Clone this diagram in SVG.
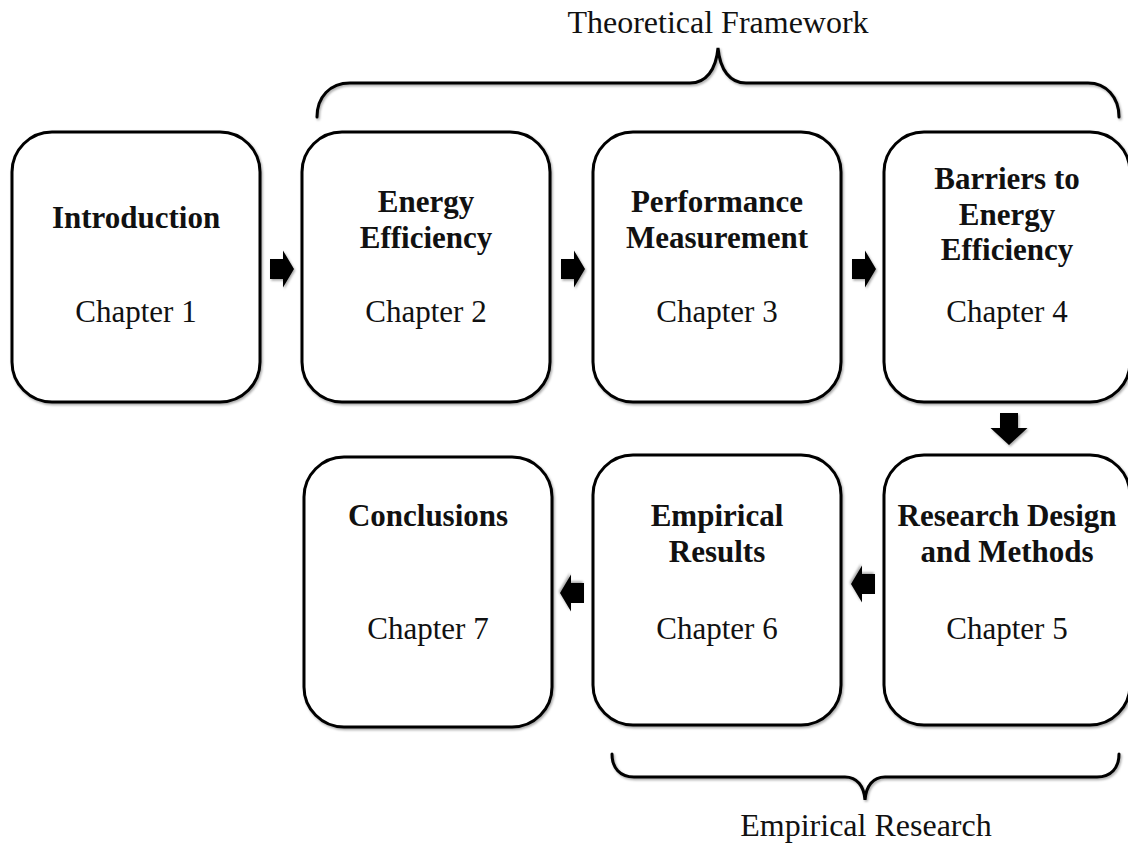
<svg xmlns="http://www.w3.org/2000/svg" width="1128" height="845" viewBox="0 0 1128 845">
  <defs>
    <filter id="soft" x="-10%" y="-10%" width="130%" height="130%">
      <feDropShadow dx="1.2" dy="1.6" stdDeviation="1.2" flood-color="#000" flood-opacity="0.35"/>
    </filter>
    <path id="arrowR" d="M0,-10 L13,-10 L13,-18.5 L24,0 L13,18.5 L13,10 L0,10 Z"/>
    <path id="arrowD" d="M-9,0 L9,0 L9,15 L18.5,15 L0,32 L-18.5,15 L-9,15 Z"/>
  </defs>
  <style>
    .box { fill: #fff; stroke: #000; stroke-width: 3; filter: url(#soft); }
    .brace { fill: none; stroke: #000; stroke-width: 3; stroke-linecap: round; filter: url(#soft); }
    .arrow { fill: #000; filter: url(#soft); }
    text { font-family: "Liberation Serif", "Times New Roman", serif; font-size: 31px; fill: #111; text-anchor: middle; }
    .title { font-weight: bold; }
    .label { font-size: 32px; }
  </style>
  <rect width="1128" height="845" fill="#fff"/>

  <!-- group braces and their captions -->
  <g id="theoretical-framework">
    <path class="brace" d="M317,117 C317,97 330,83 350,83 L690,83 C706,83 716,70 718,48 C720,70 730,83 746,83 L1088,83 C1106,83 1119,97 1119,117"/>
    <text class="label" x="718" y="33">Theoretical Framework</text>
  </g>
  <g id="empirical-research">
    <path class="brace" d="M612,754 C612,768 620,777 634,777 L845,777 C857,777 864,786 865,800 C866,786 873,777 885,777 L1097,777 C1111,777 1119,768 1119,754"/>
    <text class="label" x="866" y="836">Empirical Research</text>
  </g>

  <!-- chapter boxes -->
  <g id="chapter-1">
    <rect class="box" x="12" y="132" width="248" height="270" rx="40"/>
    <text class="title" x="136" y="228">Introduction</text>
    <text x="136" y="322">Chapter 1</text>
  </g>
  <g id="chapter-2">
    <rect class="box" x="302" y="132" width="248" height="270" rx="40"/>
    <text class="title" x="426" y="212">Energy</text>
    <text class="title" x="426" y="248">Efficiency</text>
    <text x="426" y="322">Chapter 2</text>
  </g>
  <g id="chapter-3">
    <rect class="box" x="593" y="132" width="248" height="270" rx="40"/>
    <text class="title" x="717" y="212">Performance</text>
    <text class="title" x="717" y="248">Measurement</text>
    <text x="717" y="322">Chapter 3</text>
  </g>
  <g id="chapter-4">
    <rect class="box" x="884" y="132" width="246" height="270" rx="40"/>
    <text class="title" x="1007" y="189">Barriers to</text>
    <text class="title" x="1007" y="225">Energy</text>
    <text class="title" x="1007" y="260">Efficiency</text>
    <text x="1007" y="322">Chapter 4</text>
  </g>
  <g id="chapter-5">
    <rect class="box" x="884" y="455" width="246" height="270" rx="40"/>
    <text class="title" x="1007" y="526">Research Design</text>
    <text class="title" x="1007" y="562">and Methods</text>
    <text x="1007" y="639">Chapter 5</text>
  </g>
  <g id="chapter-6">
    <rect class="box" x="593" y="455" width="248" height="270" rx="40"/>
    <text class="title" x="717" y="526">Empirical</text>
    <text class="title" x="717" y="562">Results</text>
    <text x="717" y="639">Chapter 6</text>
  </g>
  <g id="chapter-7">
    <rect class="box" x="304" y="457" width="248" height="270" rx="40"/>
    <text class="title" x="428" y="526">Conclusions</text>
    <text x="428" y="639">Chapter 7</text>
  </g>

  <!-- block arrows between chapters -->
  <g id="connectors">
    <use class="arrow" href="#arrowR" transform="translate(270,269)"/>
    <use class="arrow" href="#arrowR" transform="translate(561,269)"/>
    <use class="arrow" href="#arrowR" transform="translate(852,269)"/>
    <use class="arrow" href="#arrowD" transform="translate(1009,413)"/>
    <use class="arrow" href="#arrowR" transform="translate(875,584) rotate(180)"/>
    <use class="arrow" href="#arrowR" transform="translate(584,593) rotate(180)"/>
  </g>
</svg>
